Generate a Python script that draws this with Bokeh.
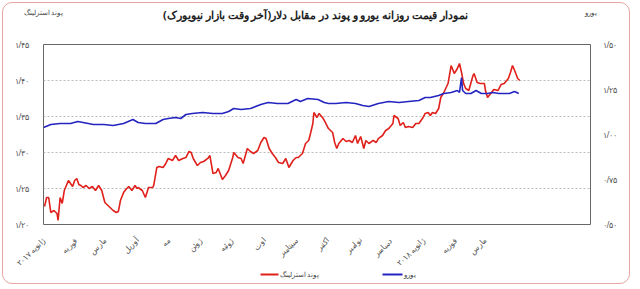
from math import pi
from bokeh.plotting import figure
from bokeh.models import (Range1d, LinearAxis, FixedTicker, InlineStyleSheet)
from bokeh.embed import file_html
from bokeh.resources import INLINE

title_text = "نمودار قیمت روزانه  یورو و پوند در مقابل دلار(آخر وقت بازار نیویورک)"
gbp_name = "پوند استرلینگ"
eur_name = "یورو"
gbp_color = "#e0201b"
eur_color = "#2424c0"

# x: days since 2017-01-01; tick at first day of each month
month_days = [0, 31, 59, 90, 120, 151, 181, 212, 243, 273, 304, 334, 365, 396, 424]
month_labels = ["ژانویه ۲۰۱۷", "فوریه", "مارس", "آوریل", "مه", "ژوئن", "ژوئیه", "اوت",
                "سپتامبر", "اکتبر", "نوامبر", "دسامبر", "ژانویه ۲۰۱۸", "فوریه", "مارس"]

gbp_ticks = [1.20, 1.25, 1.30, 1.35, 1.40, 1.45]
gbp_tick_labels = ["۱/۲۰", "۱/۲۵", "۱/۳۰", "۱/۳۵", "۱/۴۰", "۱/۴۵"]
eur_ticks = [0.50, 0.75, 1.00, 1.25, 1.50]
eur_tick_labels = ["۰/۵۰", "۰/۷۵", "۱/۰۰", "۱/۲۵", "۱/۵۰"]

gbp_days = [1, 3, 5, 7, 10, 13, 14, 16, 18, 20, 22, 24, 26, 28, 30, 32, 34, 36, 38, 41,
            44, 47, 50, 53, 56, 59, 62, 64, 67, 70, 72, 74, 77, 80, 82, 85, 88, 90, 91, 95,
            98, 101, 105, 106, 109, 111, 115, 117, 120, 124, 127, 130, 134, 137, 140, 142, 144, 148, 151, 154,
            158, 160, 163, 166, 168, 172, 175, 178, 182, 183, 187, 190, 192, 196, 199, 202, 206, 209, 212, 214,
            217, 220, 223, 226, 230, 233, 236, 240, 243, 245, 249, 252, 255, 257, 259, 260, 263, 265, 269, 271,
            274, 278, 280, 282, 284, 288, 291, 294, 297, 300, 302, 305, 308, 310, 313, 317, 320, 322, 326, 329,
            332, 336, 337, 341, 343, 346, 348, 351, 355, 358, 361, 365, 367, 370, 372, 374, 377, 380, 382, 385,
            389, 392, 395, 398, 400, 402, 404, 406, 409, 413, 414, 417, 420, 424, 425, 427, 430, 433, 437, 440,
            443, 447, 449, 451, 453, 456, 458]
gbp_values = [1.2250, 1.2375, 1.2375, 1.2167, 1.2194, 1.2153, 1.2056, 1.2375, 1.2292, 1.2472,
              1.2542, 1.2611, 1.2569, 1.2528, 1.2611, 1.2639, 1.2556, 1.2542, 1.2514, 1.2542,
              1.2500, 1.2528, 1.2472, 1.2542, 1.2472, 1.2306, 1.2264, 1.2236, 1.2194, 1.2167,
              1.2181, 1.2333, 1.2444, 1.2500, 1.2528, 1.2472, 1.2542, 1.2500, 1.2514, 1.2472,
              1.2375, 1.2514, 1.2514, 1.2542, 1.2792, 1.2806, 1.2792, 1.2833, 1.2917, 1.2889,
              1.2958, 1.2889, 1.2917, 1.2931, 1.3014, 1.3000, 1.2917, 1.2819, 1.2861, 1.2875,
              1.2917, 1.2958, 1.2708, 1.2722, 1.2778, 1.2625, 1.2681, 1.2750, 1.2931, 1.3000,
              1.2931, 1.2917, 1.2847, 1.3056, 1.3014, 1.2986, 1.3028, 1.3139, 1.3208, 1.3194,
              1.3056, 1.2986, 1.2931, 1.2861, 1.2847, 1.2917, 1.2792, 1.2889, 1.2931, 1.2931,
              1.2986, 1.3125, 1.3167, 1.3278, 1.3403, 1.3556, 1.3486, 1.3542, 1.3472, 1.3417,
              1.3333, 1.3278, 1.3139, 1.3056, 1.3125, 1.3194, 1.3153, 1.3167, 1.3139, 1.3236,
              1.3125, 1.3222, 1.3056, 1.3167, 1.3125, 1.3167, 1.3139, 1.3194, 1.3236, 1.3306,
              1.3333, 1.3403, 1.3514, 1.3472, 1.3375, 1.3417, 1.3347, 1.3361, 1.3347, 1.3403,
              1.3403, 1.3486, 1.3542, 1.3556, 1.3514, 1.3556, 1.3542, 1.3611, 1.3764, 1.3833,
              1.3958, 1.4208, 1.4097, 1.4167, 1.4236, 1.4111, 1.3958, 1.3889, 1.3861, 1.4069,
              1.4097, 1.3972, 1.3958, 1.3958, 1.3861, 1.3764, 1.3819, 1.3875, 1.3861, 1.3944,
              1.3958, 1.4028, 1.4111, 1.4208, 1.4139, 1.4028, 1.4000]

eur_days = [0, 7, 16, 26, 33, 38, 48, 58, 67, 77, 86, 91, 98, 108, 115, 120, 127, 132, 137, 143,
            153, 163, 172, 178, 183, 190, 199, 209, 216, 225, 235, 243, 247, 254, 264, 270, 274, 281, 291, 300,
            307, 313, 322, 332, 342, 351, 361, 367, 372, 380, 385, 392, 398, 400, 402, 403, 406, 411, 416, 421,
            427, 432, 438, 443, 448, 453, 457]
eur_values = [1.0389, 1.0556, 1.0611, 1.0611, 1.0722, 1.0667, 1.0556, 1.0556, 1.0500, 1.0611,
              1.0833, 1.0667, 1.0611, 1.0611, 1.0833, 1.0889, 1.0944, 1.0889, 1.1111, 1.1167,
              1.1222, 1.1167, 1.1167, 1.1278, 1.1444, 1.1389, 1.1444, 1.1667, 1.1778, 1.1722,
              1.1722, 1.1944, 1.1833, 1.2000, 1.1944, 1.1778, 1.1722, 1.1722, 1.1778, 1.1722,
              1.1611, 1.1556, 1.1722, 1.1833, 1.1778, 1.1833, 1.1889, 1.2056, 1.2056, 1.2167,
              1.2278, 1.2333, 1.2444, 1.2333, 1.3167, 1.2444, 1.2278, 1.2278, 1.2444, 1.2278,
              1.2278, 1.2333, 1.2278, 1.2278, 1.2278, 1.2389, 1.2278]

FONT = "Noto Sans"

frame_css = InlineStyleSheet(css="""
:host::after {
  content: ""; position: absolute; left: 2px; top: 2px; width: 626px; height: 280px;
  border: 1.5px solid #e8a3a3; border-radius: 10px; pointer-events: none;
}
""")

p = figure(width=640, height=289, output_backend="svg", toolbar_location=None,
           x_range=Range1d(0, 526), y_range=Range1d(1.20, 1.45),
           min_border_left=43, min_border_right=50, min_border_top=44, min_border_bottom=65,
           background_fill_color="white", border_fill_color="white",
           stylesheets=[frame_css])
p.extra_y_ranges = {"eur": Range1d(0.50, 1.50)}
# pixel-like helper range used to place header and legend rows outside the frame
p.extra_x_ranges = {"head": Range1d(43, 590)}

p.outline_line_color = "#666666"
p.outline_line_width = 1

# data axes
p.xaxis.ticker = FixedTicker(ticks=month_days)
p.xaxis.major_label_overrides = {d: l for d, l in zip(month_days, month_labels)}
p.xaxis.major_label_orientation = pi / 4
p.yaxis.ticker = FixedTicker(ticks=gbp_ticks)
p.yaxis.major_label_overrides = {t: l for t, l in zip(gbp_ticks, gbp_tick_labels)}

eur_axis = LinearAxis(y_range_name="eur", ticker=FixedTicker(ticks=eur_ticks),
                      major_label_overrides={t: l for t, l in zip(eur_ticks, eur_tick_labels)})
p.add_layout(eur_axis, "right")

# header row: series names at both sides, title in the middle
head_axis = LinearAxis(x_range_name="head", ticker=FixedTicker(ticks=[43, 590]),
                       major_label_overrides={43: gbp_name, 590: eur_name},
                       axis_label=title_text)
p.add_layout(head_axis, "above")

for ax in p.axis:
    ax.axis_line_color = None
    ax.major_tick_line_color = None
    ax.minor_tick_line_color = None
    ax.major_label_text_font = FONT
    ax.major_label_text_font_size = "8px"
    ax.major_label_text_color = "#555555"
    ax.major_label_standoff = 8
eur_axis.major_label_standoff = 6
head_axis.major_label_text_font_size = "7px"
head_axis.major_label_text_color = "#444444"
head_axis.major_label_standoff = 22
head_axis.axis_label_text_font = FONT
head_axis.axis_label_text_font_size = "11px"
head_axis.axis_label_text_font_style = "bold"
head_axis.axis_label_text_color = "#222222"
head_axis.axis_label_standoff = -17

# legend row below the month labels: coloured line samples + names
def legend_swatch(bounds, color):
    ax = LinearAxis(x_range_name="head", ticker=FixedTicker(ticks=[]), bounds=bounds,
                    axis_line_color=color, axis_line_width=2,
                    major_tick_out=0, major_tick_in=0, minor_tick_out=0, minor_tick_in=0,
                    major_label_standoff=0, major_label_text_font_size="0px")
    p.add_layout(ax, "below")

legend_swatch((260, 278), gbp_color)
legend_swatch((382, 402), eur_color)
legend_text = LinearAxis(x_range_name="head", ticker=FixedTicker(ticks=[299, 409]),
                         major_label_overrides={299: gbp_name, 409: eur_name},
                         axis_line_color=None, major_tick_out=0, major_tick_in=0,
                         minor_tick_out=0, minor_tick_in=0,
                         major_label_standoff=-5, major_label_text_font=FONT,
                         major_label_text_font_size="7px", major_label_text_color="#444444")
p.add_layout(legend_text, "below")

p.xgrid.grid_line_color = None
p.ygrid.ticker = FixedTicker(ticks=gbp_ticks)
p.ygrid.grid_line_color = "#bbbbbb"
p.ygrid.grid_line_dash = "2 2"

p.line(gbp_days, gbp_values, line_color=gbp_color, line_width=1.6)
p.line(eur_days, eur_values, line_color=eur_color, line_width=1.6, y_range_name="eur")

open("out.html", "w").write(file_html(p, INLINE))
